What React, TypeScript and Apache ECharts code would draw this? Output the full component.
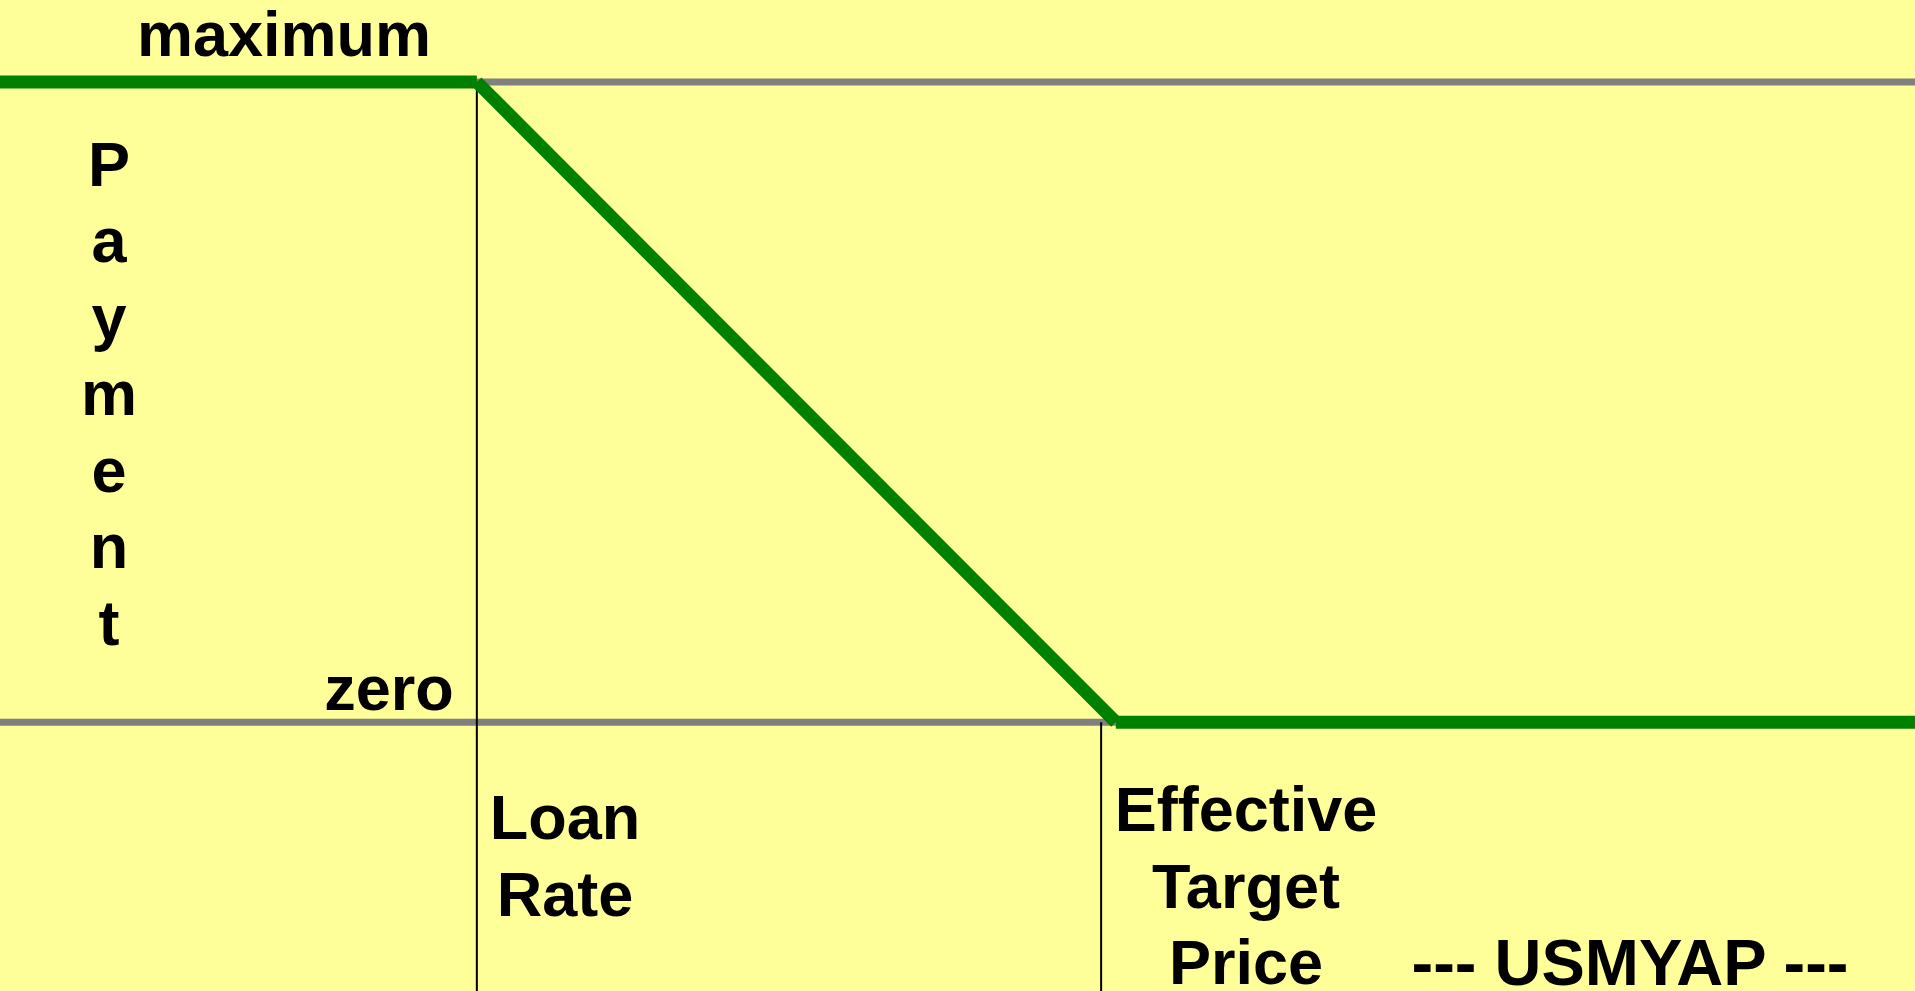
import React, { useEffect, useRef } from "react";
import * as echarts from "echarts";

// Price axis (arbitrary units) and payment axis (0 = zero, 1 = maximum)
const X_RANGE = [0, 3];
const Y_RANGE = [-0.42, 1];
const LOAN_RATE = 0.747;
const EFFECTIVE_TARGET_PRICE = 1.748;
const PAYMENT_MAX = 1;
const PAYMENT_ZERO = 0;
// Thin black guide lines as drawn in the picture (loan rate, effective target price)
const GUIDE_X = [0.747, 1.725];
const GUIDE_TOP = [PAYMENT_MAX, PAYMENT_ZERO];

// Text
const yLevelLabels = ["maximum", "zero"];
const yAxisTitle = "Payment";
const loanRateLabel = ["Loan", "Rate"];
const etpLabel = ["Effective", "Target", "Price"];
const xAxisTitle = "--- USMYAP ---";

const GREEN = "#008000";
const GRAY = "#808080";
const BG = "#FFFF99";
const FONT = "'Liberation Sans', Arial, Helvetica, sans-serif";

export default function App() {
  const ref = useRef<HTMLDivElement>(null);

  useEffect(() => {
    if (!ref.current) return;
    const chart = echarts.init(ref.current, null, { renderer: "svg" });

    const seg = (name: string, pts: number[][], color: string, width: number, z: number) => ({
      name,
      type: "line",
      data: pts,
      symbol: "none",
      silent: true,
      clip: false,
      z,
      lineStyle: { color, width, cap: "butt", join: "miter" },
    });

    const textStyle = (text: string, lineHeight = 77, fontSize = 63) => ({
      text,
      fill: "#000",
      fontSize,
      fontWeight: "bold",
      fontFamily: FONT,
      lineHeight,
      textAlign: "center",
      align: "center",
      textVerticalAlign: "middle",
      verticalAlign: "middle",
    });

    const txt = (text: string, x: number, y: number, lineHeight = 60, fontSize = 63) => ({
      type: "text",
      x,
      y,
      z: 10,
      silent: true,
      style: textStyle(text, lineHeight, fontSize),
    });

    chart.setOption({
      animation: false,
      backgroundColor: BG,
      grid: { left: 0, right: 0, top: 82, bottom: 0, containLabel: false },
      xAxis: { type: "value", min: X_RANGE[0], max: X_RANGE[1], show: false },
      yAxis: { type: "value", min: Y_RANGE[0], max: Y_RANGE[1], show: false },
      series: [
        seg("maxLevel", [[X_RANGE[0], PAYMENT_MAX], [X_RANGE[1], PAYMENT_MAX]], GRAY, 7, 1),
        seg("zeroLevel", [[X_RANGE[0], PAYMENT_ZERO], [X_RANGE[1], PAYMENT_ZERO]], GRAY, 7, 1),
        seg("loanRateGuide", [[GUIDE_X[0], GUIDE_TOP[0]], [GUIDE_X[0], Y_RANGE[0]]], "#000", 2, 2),
        seg("etpGuide", [[GUIDE_X[1], GUIDE_TOP[1]], [GUIDE_X[1], Y_RANGE[0]]], "#000", 2, 2),
        seg("paymentMax", [[X_RANGE[0], PAYMENT_MAX], [LOAN_RATE, PAYMENT_MAX]], GREEN, 13, 3),
        seg("paymentSlope", [[LOAN_RATE, PAYMENT_MAX], [EFFECTIVE_TARGET_PRICE, PAYMENT_ZERO]], GREEN, 13, 3),
        seg("paymentZero", [[EFFECTIVE_TARGET_PRICE, PAYMENT_ZERO], [X_RANGE[1], PAYMENT_ZERO]], GREEN, 13, 3),
      ],
      graphic: [
        txt(yLevelLabels[0], 284, 34),
        txt(yLevelLabels[1], 389, 688),
        txt(yAxisTitle.split("").join("\n"), 109, 393, 76.5),
        txt(loanRateLabel[0], 565, 817),
        txt(loanRateLabel[1], 565, 894),
        txt(etpLabel[0], 1246, 809),
        txt(etpLabel[1], 1246, 886),
        txt(etpLabel[2], 1246, 962, 56),
        txt(xAxisTitle, 1630, 962, 56, 65),
      ],
    });

    return () => chart.dispose();
  }, []);

  return (
    <div
      ref={ref}
      style={{ position: "absolute", left: 0, top: 0, width: 1915, height: 991 }}
    />
  );
}
